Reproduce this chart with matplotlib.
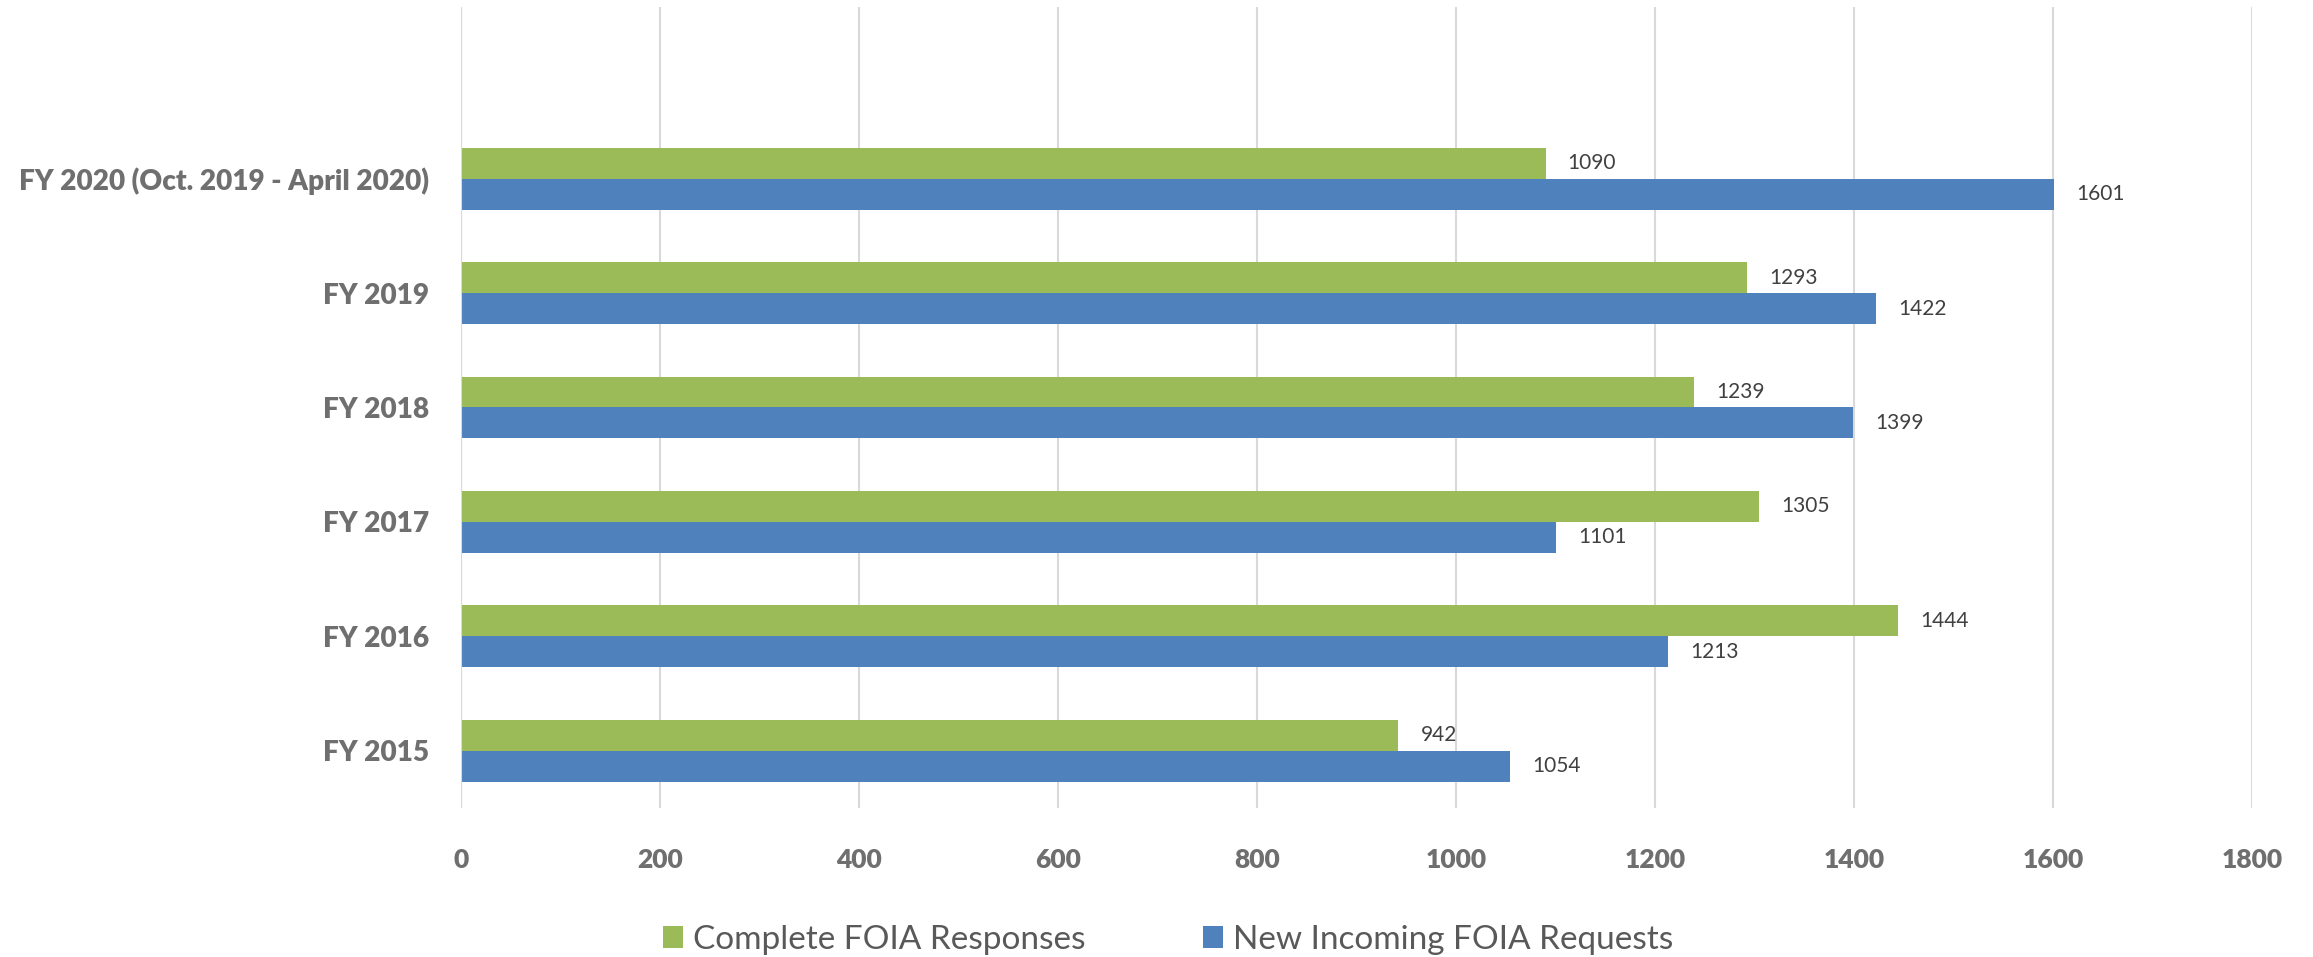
import numpy as np
import matplotlib.pyplot as plt

# data
categories = ["FY 2015", "FY 2016", "FY 2017", "FY 2018", "FY 2019",
              "FY 2020 (Oct. 2019 - April 2020)"]
complete_responses = [942, 1444, 1305, 1239, 1293, 1090]
new_requests = [1054, 1213, 1101, 1399, 1422, 1601]
x_ticks = [0, 200, 400, 600, 800, 1000, 1200, 1400, 1600, 1800]

GREEN = "#9BBB59"
BLUE = "#4F81BD"
GRAY = "#6F6F6F"

plt.rcParams["font.family"] = ["Lato", "DejaVu Sans"]

fig = plt.figure(figsize=(23.13, 9.57), dpi=100)
ax = fig.add_axes([0.1993, 0.1557, 0.7743, 0.8370])

y = np.arange(len(categories))
h = 0.27
bars_g = ax.barh(y + h / 2, complete_responses, height=h, color=GREEN,
                 label="Complete FOIA Responses", zorder=3)
bars_b = ax.barh(y - h / 2, new_requests, height=h, color=BLUE,
                 label="New Incoming FOIA Requests", zorder=3)

# data labels next to the bar ends
for bars in (bars_g, bars_b):
    ax.bar_label(bars, padding=16, fontsize=15, color="#404040")

ax.set_xlim(0, 1800)
ax.set_ylim(-0.5, len(categories) + 0.5)
ax.set_xticks(x_ticks)
ax.set_xticklabels([str(t) for t in x_ticks], fontsize=19, fontweight="heavy",
                   color=GRAY)
ax.set_yticks(y)
ax.set_yticklabels(categories, fontsize=20.2, fontweight="heavy", color=GRAY)
ax.tick_params(axis="x", length=0, pad=29)
ax.tick_params(axis="y", length=0, pad=23)

ax.grid(axis="x", color="#D9D9D9", linewidth=1.5, zorder=0)
ax.axvline(0, color="#D9D9D9", linewidth=1.5, zorder=4)
for s in ax.spines.values():
    s.set_visible(False)

fig.legend(handles=[bars_g, bars_b], loc="center", bbox_to_anchor=(0.505, 0.018),
           ncol=2, frameon=False, fontsize=24, handlelength=0.6,
           handleheight=0.6, handletextpad=0.3, columnspacing=3.5,
           labelcolor="#595959")

fig.savefig("out.png", dpi=100)
